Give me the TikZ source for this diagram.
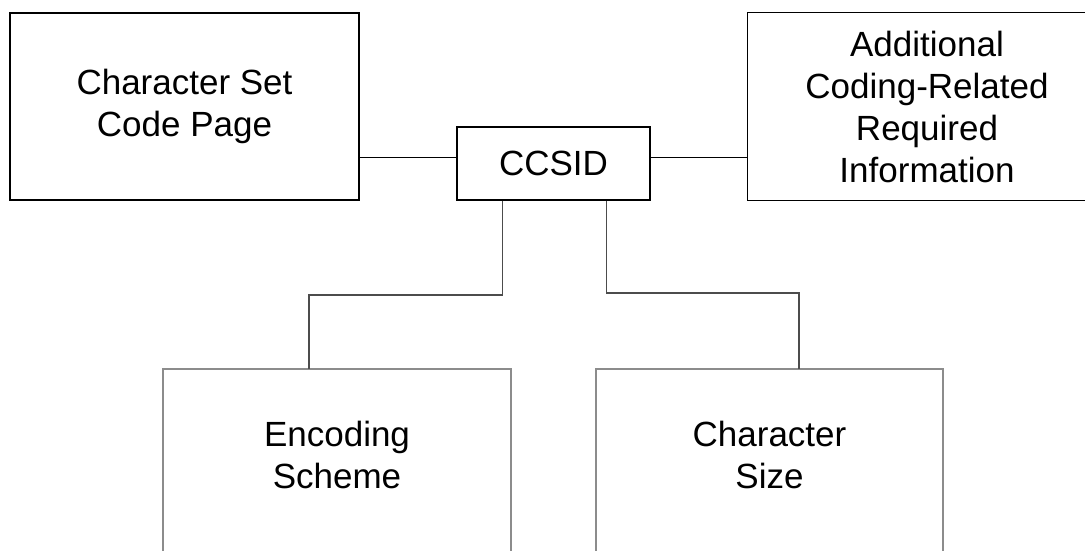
\documentclass[tikz,border=0pt]{standalone}
\usepackage{fontspec}
\setmainfont{Liberation Sans}
\begin{document}
\begin{tikzpicture}[x=1pt, y=-1pt]
            \useasboundingbox (0, 0) rectangle (1085, 550);
            {
                \tikzset{every node/.style = {shape=rectangle, align=center, inner sep=0pt, font=\fontsize{35}{42}\selectfont}}
                \tikzset{topbox/.style = {draw=black, line width=1.3pt}}

                \node[topbox, minimum width=349pt, minimum height=187pt] (charset) at (184.5, 106.5) {Character Set\\Code Page};
                \node[topbox, minimum width=193pt, minimum height=73pt] (ccsid) at (553.5, 163.5) {CCSID};
                \node[minimum width=358pt, minimum height=187pt] (addinfo) at (927, 106.5) {Additional\\Coding-Related\\Required\\Information};
                \node[minimum width=348pt, minimum height=172pt] (encoding) at (337, 455) {Encoding\\Scheme};
                \node[minimum width=347pt, minimum height=172pt] (charsize) at (769.5, 455) {Character\\Size};
            }
            \tikzset{lowline/.style = {draw=black!45, line width=1.8pt}}

            % boxes cut off by the edge of the picture
            \draw[line width=1.3pt] (addinfo.north east) -- (addinfo.north west) -- (addinfo.south west) -- (addinfo.south east);
            \draw[lowline] ([yshift=-30pt]encoding.south west) -- (encoding.north west) -- (encoding.north east) -- ([yshift=-30pt]encoding.south east);
            \draw[lowline] ([yshift=-30pt]charsize.south west) -- (charsize.north west) -- (charsize.north east) -- ([yshift=-30pt]charsize.south east);

            % heights of the side links and of the two bends below
            \coordinate (linky) at (0, 157.5);
            \coordinate (bendl) at (0, 295);
            \coordinate (bendr) at (0, 293);

            \draw[line width=1.3pt] (charset.east |- linky) -- (ccsid.west |- linky);
            \draw[line width=1.3pt] (ccsid.east |- linky) -- (addinfo.west |- linky);
            \draw[line width=1.4pt, black!70] ([xshift=-51pt]ccsid.south) -- ([xshift=-51pt]ccsid.south |- bendl) -| ([xshift=-28pt]encoding.north);
            \draw[line width=1.4pt, black!70] ([xshift=53pt]ccsid.south) -- ([xshift=53pt]ccsid.south |- bendr) -| ([xshift=29.5pt]charsize.north);

        \end{tikzpicture}
\end{document}
